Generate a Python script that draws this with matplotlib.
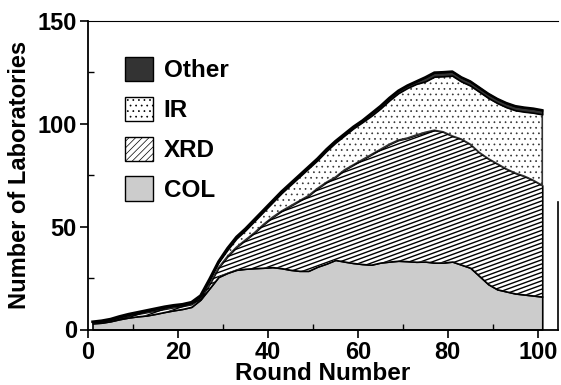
import numpy as np
import matplotlib.pyplot as plt
from matplotlib.collections import LineCollection
from matplotlib.patches import Patch

plt.rcParams['font.family'] = ['Liberation Sans', 'DejaVu Sans']
plt.rcParams['font.weight'] = 'bold'
plt.rcParams['hatch.linewidth'] = 0.5

# round numbers (every second round)
rounds = list(range(1, 102, 2))

# number of laboratories per technique
col = [3.0, 3.3, 4.0, 5.0, 5.8, 6.4, 6.8, 7.6, 8.5, 9.3,
       10.0, 11.0, 14.5, 20.0, 25.5, 27.5, 29.0, 29.5, 29.8, 30.0,
       30.3, 29.8, 29.0, 28.5, 28.5, 30.5, 32.0, 33.8, 33.0, 32.3,
       31.8, 31.5, 32.5, 33.0, 33.4, 33.2, 32.9, 33.0, 32.5, 32.5,
       33.0, 31.5, 30.0, 26.0, 22.0, 19.5, 18.5, 17.5, 17.0, 16.5,
       16.0]
xrd = [0.3, 0.4, 0.5, 0.7, 0.9, 1.2, 1.6, 1.6, 1.5, 1.5,
       1.4, 1.3, 1.0, 2.0, 4.5, 8.0, 11.0, 14.0, 17.2, 21.0,
       24.2, 27.7, 31.0, 34.0, 36.5, 38.0, 39.5, 40.2, 44.5, 47.7,
       50.7, 53.5, 55.0, 57.0, 58.6, 59.8, 61.6, 62.8, 64.3, 63.5,
       61.0, 61.0, 60.0, 60.0, 61.0, 61.0, 59.5, 58.5, 57.5, 56.0,
       54.0]
ir = [0.1, 0.2, 0.2, 0.3, 0.4, 0.4, 0.5, 0.6, 0.7, 0.6,
      0.5, 0.6, 0.6, 2.1, 2.6, 3.2, 4.2, 4.7, 5.7, 6.2,
      7.2, 8.7, 10.2, 11.7, 13.2, 13.7, 15.2, 16.7, 16.7, 17.7,
      18.2, 18.8, 19.8, 21.3, 22.8, 24.3, 24.8, 24.7, 26.0, 27.0,
      29.3, 28.0, 28.5, 29.5, 29.5, 29.5, 30.0, 30.5, 31.3, 32.8,
      34.5]
other = [0.4] * 15 + [0.8] * 16 + [1.2] * 6 + [2.0] * 14

labels = ['COL', 'XRD', 'IR', 'Other']
x_ticks = [0, 20, 40, 60, 80, 100]
y_ticks = [0, 50, 100, 150]

fig = plt.figure(figsize=(5.61, 3.85), dpi=100)
ax = fig.add_axes([88 / 561, 55.5 / 385, 470 / 561, 308.8 / 385])
ax.set_xlim(0, 104.5)
ax.set_ylim(0, 150)

c1 = np.array(col)
c2 = c1 + np.array(xrd)
c3 = c2 + np.array(ir)
c4 = c3 + np.array(other)
zero = np.zeros(len(rounds))

ax.fill_between(rounds, zero, c1, facecolor='#cccccc', edgecolor='black', lw=1.2)
xrd_poly = ax.fill_between(rounds, c1, c2, facecolor='white', edgecolor='black', lw=1.2)
ax.fill_between(rounds, c2, c3, facecolor='white', edgecolor='#333333', hatch='...', lw=1.2)
ax.fill_between(rounds, c3, c4, facecolor='#333333', edgecolor='black', lw=1.2)
ax.plot(rounds, c4, color='black', lw=1.8)

# shallow diagonal hatching for the XRD band, clipped to its polygon
bbox = ax.get_window_extent()
px_x = bbox.width / 104.5
px_y = bbox.height / 150
slope = np.tan(np.radians(20)) * px_x / px_y
step = 4.2 / px_y
segs = [[(0, b), (105, b + slope * 105)] for b in np.arange(-130, 150, step)]
lc = LineCollection(segs, colors='black', linewidths=1.0)
lc.set_clip_path(xrd_poly.get_paths()[0], ax.transData)
ax.add_collection(lc, autolim=False)

ax.set_xticks(x_ticks)
ax.set_yticks(y_ticks)
ax.set_xticks(range(10, 101, 20), minor=True)
ax.set_yticks([25, 75, 125], minor=True)
ax.tick_params(which='major', direction='out', length=6, width=1.2, labelsize=17, pad=2)
ax.tick_params(which='minor', direction='in', length=4, width=1.0)
ax.set_xlabel('Round Number', fontsize=17.5, fontweight='bold', labelpad=-1)
ax.set_ylabel('Number of Laboratories', fontsize=17, fontweight='bold', labelpad=5)

for side in ['left', 'bottom']:
    ax.spines[side].set_linewidth(1.3)
ax.spines['top'].set_linewidth(0.8)
ax.spines['right'].set_linewidth(1.2)
ax.spines['right'].set_bounds(0, 62)

handles = [
    Patch(facecolor='#333333', edgecolor='black', label='Other'),
    Patch(facecolor='white', edgecolor='black', hatch='...', label='IR'),
    Patch(facecolor='white', edgecolor='black', hatch='/////', label='XRD'),
    Patch(facecolor='#cccccc', edgecolor='black', label='COL'),
]
ax.legend(handles=handles, loc='upper left', bbox_to_anchor=(0.078, 0.883),
          frameon=False, fontsize=17.5, handlelength=1.15, handleheight=1.15,
          handletextpad=0.45, labelspacing=0.6, borderpad=0, borderaxespad=0)

fig.savefig('out.png', dpi=100)
